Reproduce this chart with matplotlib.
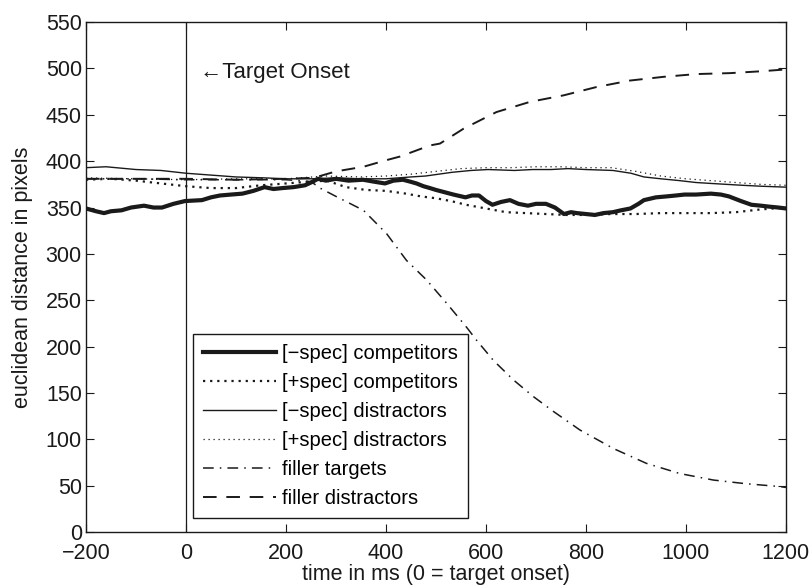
import matplotlib
matplotlib.use("Agg")
import matplotlib.pyplot as plt

plt.rcParams['font.family'] = ['Liberation Sans', 'DejaVu Sans']

# [-spec] competitors (thick solid)
t_comp_neg = [-200, -180, -164, -150, -129, -110, -84, -65, -48, -25, -2, 32, 50, 68, 90, 113,
              135, 157, 175, 193, 215, 238, 250, 264, 280, 300, 325, 354, 375, 398, 415, 434,
              448, 461, 475, 488, 500, 514, 535, 559, 572, 586, 600, 613, 630, 648, 665, 684,
              700, 720, 738, 756, 770, 782, 800, 818, 835, 854, 870, 889, 905, 916, 940, 961,
              980, 997, 1020, 1050, 1070, 1086, 1110, 1131, 1150, 1166, 1185, 1200]
v_comp_neg = [349, 346, 344, 346, 347, 350, 352, 350, 350, 354, 357, 358, 361, 363, 364, 365,
              368, 372, 370, 371, 372, 374, 377, 381, 379, 381, 379, 380, 378, 376, 379, 380,
              378, 376, 373, 371, 369, 367, 364, 361, 363, 363, 357, 353, 356, 358, 354, 352,
              354, 354, 350, 343, 345, 344, 343, 342, 344, 345, 347, 349, 354, 358, 361, 362,
              363, 364, 364, 365, 364, 362, 357, 353, 352, 351, 350, 349]

# [+spec] competitors (heavy dotted)
t_comp_pos = [-200, -150, -100, -50, 0, 50, 100, 150, 200, 250, 282, 320, 360, 400, 440, 470,
              500, 530, 560, 600, 640, 680, 720, 760, 800, 850, 900, 950, 1000, 1050, 1100,
              1150, 1200]
v_comp_pos = [380, 381, 379, 376, 373, 371, 371, 374, 376, 378, 379, 372, 369, 368, 365, 362,
              360, 357, 353, 349, 345, 344, 343, 342, 342, 343, 343, 344, 344, 344, 345,
              348, 350]

# [-spec] distractors (thin solid)
t_dist_neg = [-200, -160, -100, -50, 0, 50, 100, 157, 200, 250, 300, 350, 400, 450, 479, 532,
              570, 604, 657, 693, 730, 764, 800, 854, 890, 916, 950, 988, 1020, 1050, 1113,
              1150, 1200]
v_dist_neg = [393, 394, 391, 390, 387, 385, 383, 382, 381, 381, 382, 381, 381, 383, 384, 388,
              390, 391, 390, 391, 391, 392, 391, 390, 387, 383, 381, 379, 377, 376, 374,
              373, 372]

# [+spec] distractors (thin dotted)
t_dist_pos = [-200, -100, 0, 100, 200, 280, 350, 400, 450, 500, 550, 600, 650, 700, 750, 800,
              850, 900, 950, 1000, 1050, 1100, 1150, 1200]
v_dist_pos = [382, 381, 380, 381, 381, 384, 383, 384, 386, 389, 392, 393, 393, 394, 394, 393,
              393, 389, 384, 381, 379, 377, 375, 374]

# filler targets (dash-dot)
t_fill_tgt = [-200, -100, 0, 100, 200, 250, 268, 300, 355, 388, 401, 441, 481, 521, 561, 581,
              615, 655, 695, 735, 788, 855, 921, 988, 1055, 1121, 1188, 1200]
v_fill_tgt = [381, 381, 380, 380, 380, 378, 371, 362, 347, 329, 322, 293, 272, 247, 221, 207,
              185, 164, 146, 130, 110, 90, 74, 63, 56, 52, 49, 48]

# filler distractors (dashed)
t_fill_dst = [-200, -100, 0, 100, 200, 250, 268, 300, 355, 400, 428, 488, 508, 555, 621, 688,
              755, 821, 888, 955, 1021, 1088, 1150, 1200]
v_fill_dst = [381, 381, 381, 380, 381, 382, 384, 389, 394, 401, 405, 417, 419, 435, 453, 464,
              471, 480, 487, 491, 494, 495, 497, 499]

ink = '#1a1a1a'
fs_tick = 15.5
fs_label = 15.5
fs_leg = 14.5
fig = plt.figure(figsize=(8.12, 5.86), dpi=100)
ax = fig.add_axes([0.1059, 0.0922, 0.862, 0.870])

ax.plot(t_comp_neg, v_comp_neg, color=ink, lw=3.0, label='[\u2212spec] competitors')
ax.plot(t_comp_pos, v_comp_pos, color=ink, lw=1.6, ls=(0, (1, 2.2)), label='[+spec] competitors')
ax.plot(t_dist_neg, v_dist_neg, color=ink, lw=1.0, label='[\u2212spec] distractors')
ax.plot(t_dist_pos, v_dist_pos, color=ink, lw=0.9, ls=(0, (1, 3)), label='[+spec] distractors')
ax.plot(t_fill_tgt, v_fill_tgt, color=ink, lw=1.1, ls=(0, (7, 4, 1, 4)), label='filler targets')
ax.plot(t_fill_dst, v_fill_dst, color=ink, lw=1.4, ls=(0, (7, 5)), label='filler distractors')

ax.axvline(0, color=ink, lw=0.9)
ax.text(28, 496, '\u2190Target Onset', fontsize=16, ha='left', va='center', color=ink)

ax.set_xlim(-200, 1200)
ax.set_ylim(0, 550)
ax.set_xticks(range(-200, 1201, 200))
ax.set_yticks(range(0, 551, 50))
ax.tick_params(direction='in', top=True, right=True, length=6, width=0.8,
               labelsize=fs_tick, colors=ink)
ax.tick_params(axis='x', pad=8)
ax.tick_params(axis='y', pad=3)
for s in ax.spines.values():
    s.set_linewidth(1.0)
    s.set_color(ink)

ax.set_xlabel('time in ms (0 = target onset)', fontsize=fs_label, color=ink, labelpad=0)
ax.set_ylabel('euclidean distance in pixels', fontsize=fs_label, color=ink, labelpad=9)

leg = ax.legend(loc='lower left', bbox_to_anchor=(0.153, 0.027), borderaxespad=0,
                fontsize=fs_leg, handlelength=3.6, handletextpad=0.3, labelspacing=0.5,
                fancybox=False, framealpha=1, edgecolor=ink, borderpad=0.5)
leg.get_frame().set_linewidth(1.0)

fig.savefig('out.png', dpi=100)
